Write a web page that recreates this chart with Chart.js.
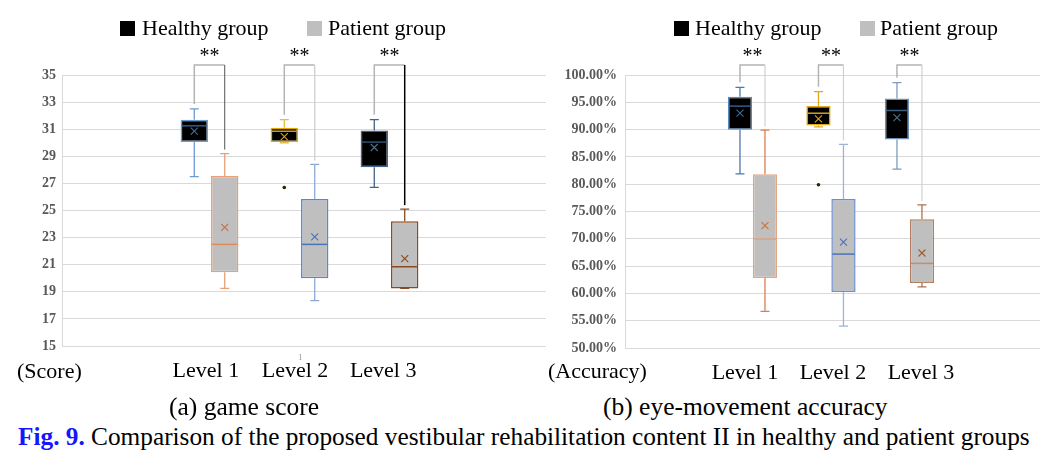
<!DOCTYPE html>
<html>
<head>
<meta charset="utf-8">
<script src="https://cdn.jsdelivr.net/npm/chart.js@4/dist/chart.umd.min.js"></script>
<style>
  body { margin: 0; background: #fff; }
  #page { position: relative; width: 1062px; height: 469px; background: #fff; font-family: 'Liberation Serif', serif; color: #000; }
  canvas { position: absolute; top: 0; }
  .txt { position: absolute; white-space: nowrap; line-height: 1; }
  .sw { position: absolute; width: 15px; height: 15px; }
</style>
</head>
<body>
<div id="page">
  <canvas id="scoreChart" width="546" height="390" style="left:0"></canvas>
  <canvas id="accChart" width="494" height="392" style="left:546px"></canvas>

  <!-- legends -->
  <div class="sw" style="left:120px;top:21px;background:#000"></div>
  <div class="txt" style="left:142px;top:17px;font-size:22px">Healthy group</div>
  <div class="sw" style="left:307px;top:21px;background:#bfbfbf"></div>
  <div class="txt" style="left:328px;top:17px;font-size:22px">Patient group</div>

  <div class="sw" style="left:674px;top:21px;background:#000"></div>
  <div class="txt" style="left:695px;top:17px;font-size:22px">Healthy group</div>
  <div class="sw" style="left:860px;top:21px;background:#bfbfbf"></div>
  <div class="txt" style="left:880px;top:17px;font-size:22px">Patient group</div>

  <!-- axis units -->
  <div class="txt" style="left:17px;top:360px;font-size:22px">(Score)</div>
  <div class="txt" style="left:548px;top:360px;font-size:22px">(Accuracy)</div>
  <div class="txt" style="left:298px;top:353px;font-size:9px;color:#999">1</div>

  <!-- captions -->
  <div class="txt" style="left:169px;top:394px;font-size:25.5px">(a) game score</div>
  <div class="txt" style="left:603px;top:394px;font-size:25.5px">(b) eye-movement accuracy</div>
  <div class="txt" style="left:18px;top:424px;font-size:25.3px"><b style="color:#1515ff">Fig. 9.</b> Comparison of the proposed vestibular rehabilitation content II in healthy and patient groups</div>
</div>

<script>
// ---------------- data ----------------
const levels = ['Level 1', 'Level 2', 'Level 3'];

// (a) game score
const scoreHealthyMin    = [27.5, 30.0, 26.7];
const scoreHealthyQ1     = [30.05, 30.05, 28.2];
const scoreHealthyMedian = [31.25, 30.85, 30.05];
const scoreHealthyQ3     = [31.7, 31.1, 30.9];
const scoreHealthyMax    = [32.5, 31.7, 31.7];
const scoreHealthyMean   = [30.85, 30.45, 29.65];
const scoreHealthyOutliers = [[], [26.7], []];

const scorePatientMin    = [19.25, 18.35, 19.25];
const scorePatientQ1     = [20.45, 20.0, 19.25];
const scorePatientMedian = [22.5, 22.5, 20.85];
const scorePatientQ3     = [27.55, 25.85, 24.2];
const scorePatientMax    = [29.2, 28.4, 25.1];
const scorePatientMean   = [23.75, 23.05, 21.45];
const scorePatientOutliers = [[], [], []];

const scoreTicks = [15, 17, 19, 21, 23, 25, 27, 29, 31, 33, 35];

// (b) eye-movement accuracy, in %
const accHealthyMin    = [81.9, 90.5, 82.75];
const accHealthyQ1     = [89.95, 90.75, 88.2];
const accHealthyMedian = [94.3, 93.0, 93.5];
const accHealthyQ3     = [96.0, 94.3, 95.7];
const accHealthyMax    = [97.75, 96.95, 98.6];
const accHealthyMean   = [93.0, 91.95, 92.2];
const accHealthyOutliers = [[], [79.9], []];

const accPatientMin    = [56.7, 54.0, 61.2];
const accPatientQ1     = [62.8, 60.25, 61.9];
const accPatientMedian = [69.95, 67.2, 65.5];
const accPatientQ3     = [81.8, 77.3, 73.6];
const accPatientMax    = [89.9, 87.3, 76.2];
const accPatientMean   = [72.4, 69.4, 67.4];
const accPatientOutliers = [[], [], []];

const accTicks = [50, 55, 60, 65, 70, 75, 80, 85, 90, 95, 100];

const sigLabel = '**';

// ---------------- helpers ----------------
const SERIF = "'Liberation Serif', 'Times New Roman', serif";

function boxData(q1, q3) {
    return q1.map((v, i) => ({ x: i + 1, y: [v, q3[i]] }));
}

// whiskers, medians, means and outliers on top of the floating bars
const boxWhiskers = {
    id: 'boxWhiskers',
    afterDatasetsDraw(chart) {
        const ctx = chart.ctx;
        const y = chart.scales.y;
        chart.data.datasets.forEach((ds, di) => {
            const meta = chart.getDatasetMeta(di);
            const s = ds.stats;
            meta.data.forEach((bar, i) => {
                const cx = bar.x;
                const half = bar.width / 2;
                const yMax = y.getPixelForValue(s.max[i]);
                const yMin = y.getPixelForValue(s.min[i]);
                const yQ1 = y.getPixelForValue(s.q1[i]);
                const yQ3 = y.getPixelForValue(s.q3[i]);
                const yMed = y.getPixelForValue(s.median[i]);
                const yMean = y.getPixelForValue(s.mean[i]);

                ctx.save();
                ctx.lineWidth = 1.3;
                ctx.strokeStyle = ds.whiskerColor[i];
                ctx.beginPath();
                ctx.moveTo(cx, yQ3); ctx.lineTo(cx, yMax);
                ctx.moveTo(cx - 4.5, yMax); ctx.lineTo(cx + 4.5, yMax);
                ctx.moveTo(cx, yQ1); ctx.lineTo(cx, yMin);
                ctx.moveTo(cx - 4.5, yMin); ctx.lineTo(cx + 4.5, yMin);
                ctx.stroke();

                // median
                ctx.lineWidth = 1.5;
                ctx.strokeStyle = ds.medianColor[i];
                ctx.beginPath();
                ctx.moveTo(cx - half + 1, yMed); ctx.lineTo(cx + half - 1, yMed);
                ctx.stroke();

                // mean
                ctx.lineWidth = 1.1;
                ctx.strokeStyle = ds.meanColor[i];
                ctx.beginPath();
                ctx.moveTo(cx - 3.5, yMean - 3.5); ctx.lineTo(cx + 3.5, yMean + 3.5);
                ctx.moveTo(cx + 3.5, yMean - 3.5); ctx.lineTo(cx - 3.5, yMean + 3.5);
                ctx.stroke();

                // outliers
                s.outliers[i].forEach(v => {
                    ctx.fillStyle = '#2a2200';
                    ctx.beginPath();
                    ctx.arc(cx, y.getPixelForValue(v), 1.8, 0, Math.PI * 2);
                    ctx.fill();
                });
                ctx.restore();
            });
        });
    }
};

// significance brackets between healthy and patient boxes
const sigBrackets = {
    id: 'sigBrackets',
    afterDraw(chart, args, opts) {
        const ctx = chart.ctx;
        const y = chart.scales.y;
        const top = chart.chartArea.top - 10;
        const healthy = chart.getDatasetMeta(0).data;
        const patient = chart.getDatasetMeta(1).data;
        const hMax = chart.data.datasets[0].stats.max;
        const pMax = chart.data.datasets[1].stats.max;
        healthy.forEach((hb, i) => {
            const pb = patient[i];
            ctx.save();
            ctx.lineWidth = 1.5;
            ctx.strokeStyle = '#b4b4b4';
            ctx.beginPath();
            ctx.moveTo(hb.x, y.getPixelForValue(hMax[i]) - 5);
            ctx.lineTo(hb.x, top);
            ctx.lineTo(pb.x, top);
            ctx.stroke();
            ctx.strokeStyle = opts.rightColors[i];
            ctx.lineWidth = opts.rightWidths[i];
            ctx.beginPath();
            ctx.moveTo(pb.x, top);
            ctx.lineTo(pb.x, y.getPixelForValue(pMax[i]) - 4);
            ctx.stroke();

            ctx.fillStyle = '#000';
            ctx.font = '20px ' + SERIF;
            ctx.textAlign = 'center';
            ctx.textBaseline = 'middle';
            ctx.fillText(sigLabel, (hb.x + pb.x) / 2, top - 8);
            ctx.restore();
        });
    }
};

function makeChart(id, cfg) {
    const healthyStats = { min: cfg.h.min, q1: cfg.h.q1, median: cfg.h.median, q3: cfg.h.q3, max: cfg.h.max, mean: cfg.h.mean, outliers: cfg.h.outliers };
    const patientStats = { min: cfg.p.min, q1: cfg.p.q1, median: cfg.p.median, q3: cfg.p.q3, max: cfg.p.max, mean: cfg.p.mean, outliers: cfg.p.outliers };

    return new Chart(document.getElementById(id), {
        type: 'bar',
        data: {
            datasets: [{
                label: 'Healthy group',
                data: boxData(cfg.h.q1, cfg.h.q3),
                backgroundColor: '#000000',
                borderColor: cfg.h.border,
                borderWidth: 1.5,
                borderSkipped: false,
                stats: healthyStats,
                whiskerColor: cfg.h.whisker,
                medianColor: cfg.h.medianCol,
                meanColor: cfg.h.meanCol,
                categoryPercentage: cfg.catPct,
                barPercentage: cfg.barPct
            }, {
                label: 'Patient group',
                data: boxData(cfg.p.q1, cfg.p.q3),
                backgroundColor: '#bfbfbf',
                borderColor: cfg.p.border,
                borderWidth: 1.5,
                borderSkipped: false,
                stats: patientStats,
                whiskerColor: cfg.p.whisker,
                medianColor: cfg.p.medianCol,
                meanColor: cfg.p.meanCol,
                categoryPercentage: cfg.catPct,
                barPercentage: cfg.barPct
            }]
        },
        options: {
            responsive: false,
            animation: false,
            layout: { padding: { top: 75, left: 0, right: 0, bottom: 0 } },
            plugins: {
                legend: { display: false },
                tooltip: { enabled: false },
                sigBrackets: { rightColors: cfg.sigColors, rightWidths: cfg.sigWidths }
            },
            scales: {
                x: {
                    type: 'linear',
                    offset: false,
                    min: cfg.xMin,
                    max: cfg.xMax,
                    // the level captions sit a little off the box pairs, as in the original figure
                    afterBuildTicks: s => { s.ticks = cfg.labelAt.map(v => ({ value: v })); },
                    afterFit: s => { s.height = 44; },
                    grid: { display: false, drawTicks: false },
                    border: { display: false },
                    ticks: {
                        padding: 12,
                        color: '#000',
                        font: { family: SERIF, size: 22 },
                        callback: (v, i) => levels[i] || ''
                    }
                },
                y: {
                    min: cfg.yTicks[0],
                    max: cfg.yTicks[cfg.yTicks.length - 1],
                    afterBuildTicks: s => { s.ticks = cfg.yTicks.map(v => ({ value: v })); },
                    afterFit: s => { s.width = cfg.yWidth; },
                    grid: { color: '#d9d9d9', lineWidth: 1, drawTicks: false },
                    border: { display: true, color: '#d9d9d9' },
                    ticks: {
                        padding: cfg.yPad,
                        color: '#595959',
                        font: { family: SERIF, size: 14, weight: 'bold' },
                        callback: cfg.yFormat
                    }
                }
            }
        },
        plugins: [boxWhiskers, sigBrackets]
    });
}

makeChart('scoreChart', {
    xMin: -0.639, xMax: 4.739,
    labelAt: [0.96, 1.95, 2.93],
    catPct: 0.69, barPct: 0.9,
    yTicks: scoreTicks, yWidth: 62, yPad: 6,
    yFormat: v => String(v),
    sigColors: ['#555555', '#d4d4d4', '#000000'],
    sigWidths: [1, 1.5, 1.5],
    h: {
        min: scoreHealthyMin, q1: scoreHealthyQ1, median: scoreHealthyMedian, q3: scoreHealthyQ3,
        max: scoreHealthyMax, mean: scoreHealthyMean, outliers: scoreHealthyOutliers,
        border: ['#6d9bd1', '#e0a800', '#44638a'],
        whisker: ['#6d9bd1', '#e6b94a', '#44638a'],
        medianCol: ['#2f5d8a', '#c89a1a', '#2f5070'],
        meanCol: ['#3c6e9e', '#d4a020', '#4a6f95']
    },
    p: {
        min: scorePatientMin, q1: scorePatientQ1, median: scorePatientMedian, q3: scorePatientQ3,
        max: scorePatientMax, mean: scorePatientMean, outliers: scorePatientOutliers,
        border: ['#e8a07a', '#5f86cc', '#8b4a1e'],
        whisker: ['#e8a07a', '#8fa8d8', '#8b4a1e'],
        medianCol: ['#e08a5a', '#4a72b8', '#8b4a1e'],
        meanCol: ['#d06a3a', '#4a72b8', '#8b4a1e']
    }
});

makeChart('accChart', {
    xMin: -0.624, xMax: 4.663,
    labelAt: [0.904, 2.025, 3.146],
    catPct: 0.637, barPct: 0.97,
    yTicks: accTicks, yWidth: 79, yPad: 8,
    yFormat: v => v.toFixed(2) + '%',
    sigColors: ['#d0d0d0', '#d0d0d0', '#d0d0d0'],
    sigWidths: [1.2, 1.2, 1.2],
    h: {
        min: accHealthyMin, q1: accHealthyQ1, median: accHealthyMedian, q3: accHealthyQ3,
        max: accHealthyMax, mean: accHealthyMean, outliers: accHealthyOutliers,
        border: ['#5a88c0', '#e0a820', '#6d8fb5'],
        whisker: ['#4a78b0', '#e0a820', '#7f9bbb'],
        medianCol: ['#2f5d8a', '#d4a020', '#3d5f85'],
        meanCol: ['#3a6a9a', '#d4a020', '#4a6f95']
    },
    p: {
        min: accPatientMin, q1: accPatientQ1, median: accPatientMedian, q3: accPatientQ3,
        max: accPatientMax, mean: accPatientMean, outliers: accPatientOutliers,
        border: ['#e4a585', '#6a8fd0', '#b08060'],
        whisker: ['#d88050', '#9fb2d8', '#b07050'],
        medianCol: ['#e0a080', '#4a72b8', '#c09070'],
        meanCol: ['#d0703a', '#4a72b8', '#a05a30']
    }
});
</script>
</body>
</html>
